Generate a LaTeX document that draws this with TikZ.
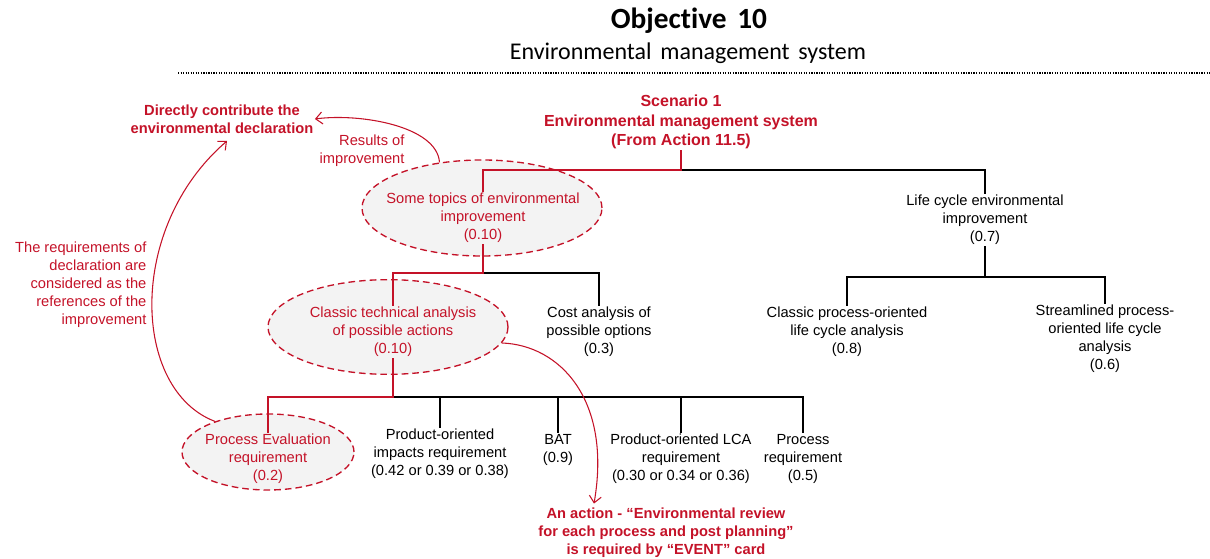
\documentclass[tikz,border=0pt]{standalone}
\usepackage{fontspec}
\setmainfont{Liberation Sans}
\newfontfamily\titlefont[Ligatures=NoCommon, WordSpace=0.8]{Carlito}
\newfontfamily\subtitlefont[Ligatures=NoCommon, WordSpace=1.6]{Carlito}
\usepackage{tikz}
\definecolor{myred}{RGB}{196,18,40}
\definecolor{ellgray}{RGB}{243,243,243}
\usetikzlibrary{shapes.geometric, arrows.meta, calc}
\newcommand{\txtsize}{\fontsize{11}{13.5}\selectfont}

\begin{document}
\begin{tikzpicture}[x=0.75pt, y=-0.75pt,
			>={Straight Barb[length=5pt,width=9pt]},   % Pfeilspitzen
			blk/.style={font=\txtsize, align=center, inner sep=1pt},
			redtxt/.style={blk, text=myred},
			redbold/.style={redtxt, font=\txtsize\bfseries},
			ell/.style={ellipse, draw=myred, fill=ellgray, line width=1pt, dash pattern=on 5pt off 3pt, inner sep=0pt},
			tree/.style={line width=1.5pt},
			redtree/.style={tree, draw=myred},
			curve/.style={->, draw=myred, line width=0.8pt}]
			\useasboundingbox (0,0) rectangle (1210,559);
			% Titel
			\node[font=\titlefont\bfseries\fontsize{22}{26}\selectfont] (title) at (689,21) {Objective 10};
			\node[font=\subtitlefont\fontsize{18}{22}\selectfont] (subtitle) at (688,53) {Environmental management system};
			\draw[densely dotted, line width=0.9pt] (178,73) -- (1210,73);
			% Ellipsen
			\node[ell, minimum width=180pt, minimum height=72pt] (topicsE) at (482,208) {};
			\node[ell, minimum width=180pt, minimum height=71pt] (classicE) at (388,327) {};
			\node[ell, minimum width=129pt, minimum height=57pt] (procevE) at (268,452) {};
			% Knoten
			\node[redbold, font=\fontsize{12}{14.5}\selectfont\bfseries] (scen) at (681,122) {Scenario 1\\Environmental management system\\(From Action 11.5)};
			\node[redtxt] (topics) at (483,218) {Some topics of environmental\\improvement\\(0.10)};
			\node[blk] (life) at (985,220) {Life cycle environmental\\improvement\\(0.7)};
			\node[redtxt] (classic) at (393,332) {Classic technical analysis\\of possible actions\\(0.10)};
			\node[blk] (cost) at (599,332) {Cost analysis of\\possible options\\(0.3)};
			\node[blk] (lcaproc) at (847,332) {Classic process-oriented\\life cycle analysis\\(0.8)};
			\node[blk] (streamlined) at (1105,339) {Streamlined process-\\oriented life cycle\\analysis\\(0.6)};
			\node[redtxt] (procev) at (268,459) {Process Evaluation\\requirement\\(0.2)};
			\node[blk] (prodimp) at (440,454) {Product-oriented\\impacts requirement\\(0.42 or 0.39 or 0.38)};
			\node[blk] (bat) at (558,450) {BAT\\(0.9)};
			\node[blk] (prodlca) at (681,459) {Product-oriented LCA\\requirement\\(0.30 or 0.34 or 0.36)};
			\node[blk] (procreq) at (803,459) {Process\\requirement\\(0.5)};
			% Beschriftung
			\node[redbold] (direct) at (222,119) {Directly contribute the\\environmental declaration};
			\node[redtxt, align=right, anchor=east] (results) at (406,151) {Results of\\improvement};
			\node[redtxt, align=right, anchor=east] (reqs) at (148,285) {The requirements of\\declaration are\\considered as the\\references of the\\improvement};
			\node[redbold] (action) at (666,533) {An action - “Environmental review\\for each process and post planning”\\is required by “EVENT” card};
			% Baum
			\coordinate (j1) at (681,170);
			\coordinate (j2) at (483,273);
			\coordinate (j3) at (393,397);
			\coordinate (j4) at (985,277);
			\draw[tree] (j1) -| (life.north);
			\draw[redtree] (scen.south) -- (j1) -| (topics.north);
			\draw[tree] (j2) -| (cost.north);
			\draw[redtree] (topics.south) -- (j2) -| (classic.north);
			\foreach \n in {prodimp,bat,prodlca,procreq} \draw[tree] (j3) -| (\n.north);
			\draw[redtree] (classic.south) -- (j3) -| (procev.north);
			\draw[tree] (life.south) -- (j4) -| (lcaproc.north);
			\draw[tree] (j4) -| (streamlined.north);
			% Pfeile
			\draw[curve] (topicsE.133) .. controls (437,126) and (360,113) .. (direct.east);
			\draw[curve] (procevE.150) .. controls (132,390) and (126,228) .. ($(direct.south)+(5,6)$);
			\draw[curve] (classicE.-8) .. controls (560,345) and (612,400) .. ($(action.north)+(-72,-3)$);
		\end{tikzpicture}
\end{document}
